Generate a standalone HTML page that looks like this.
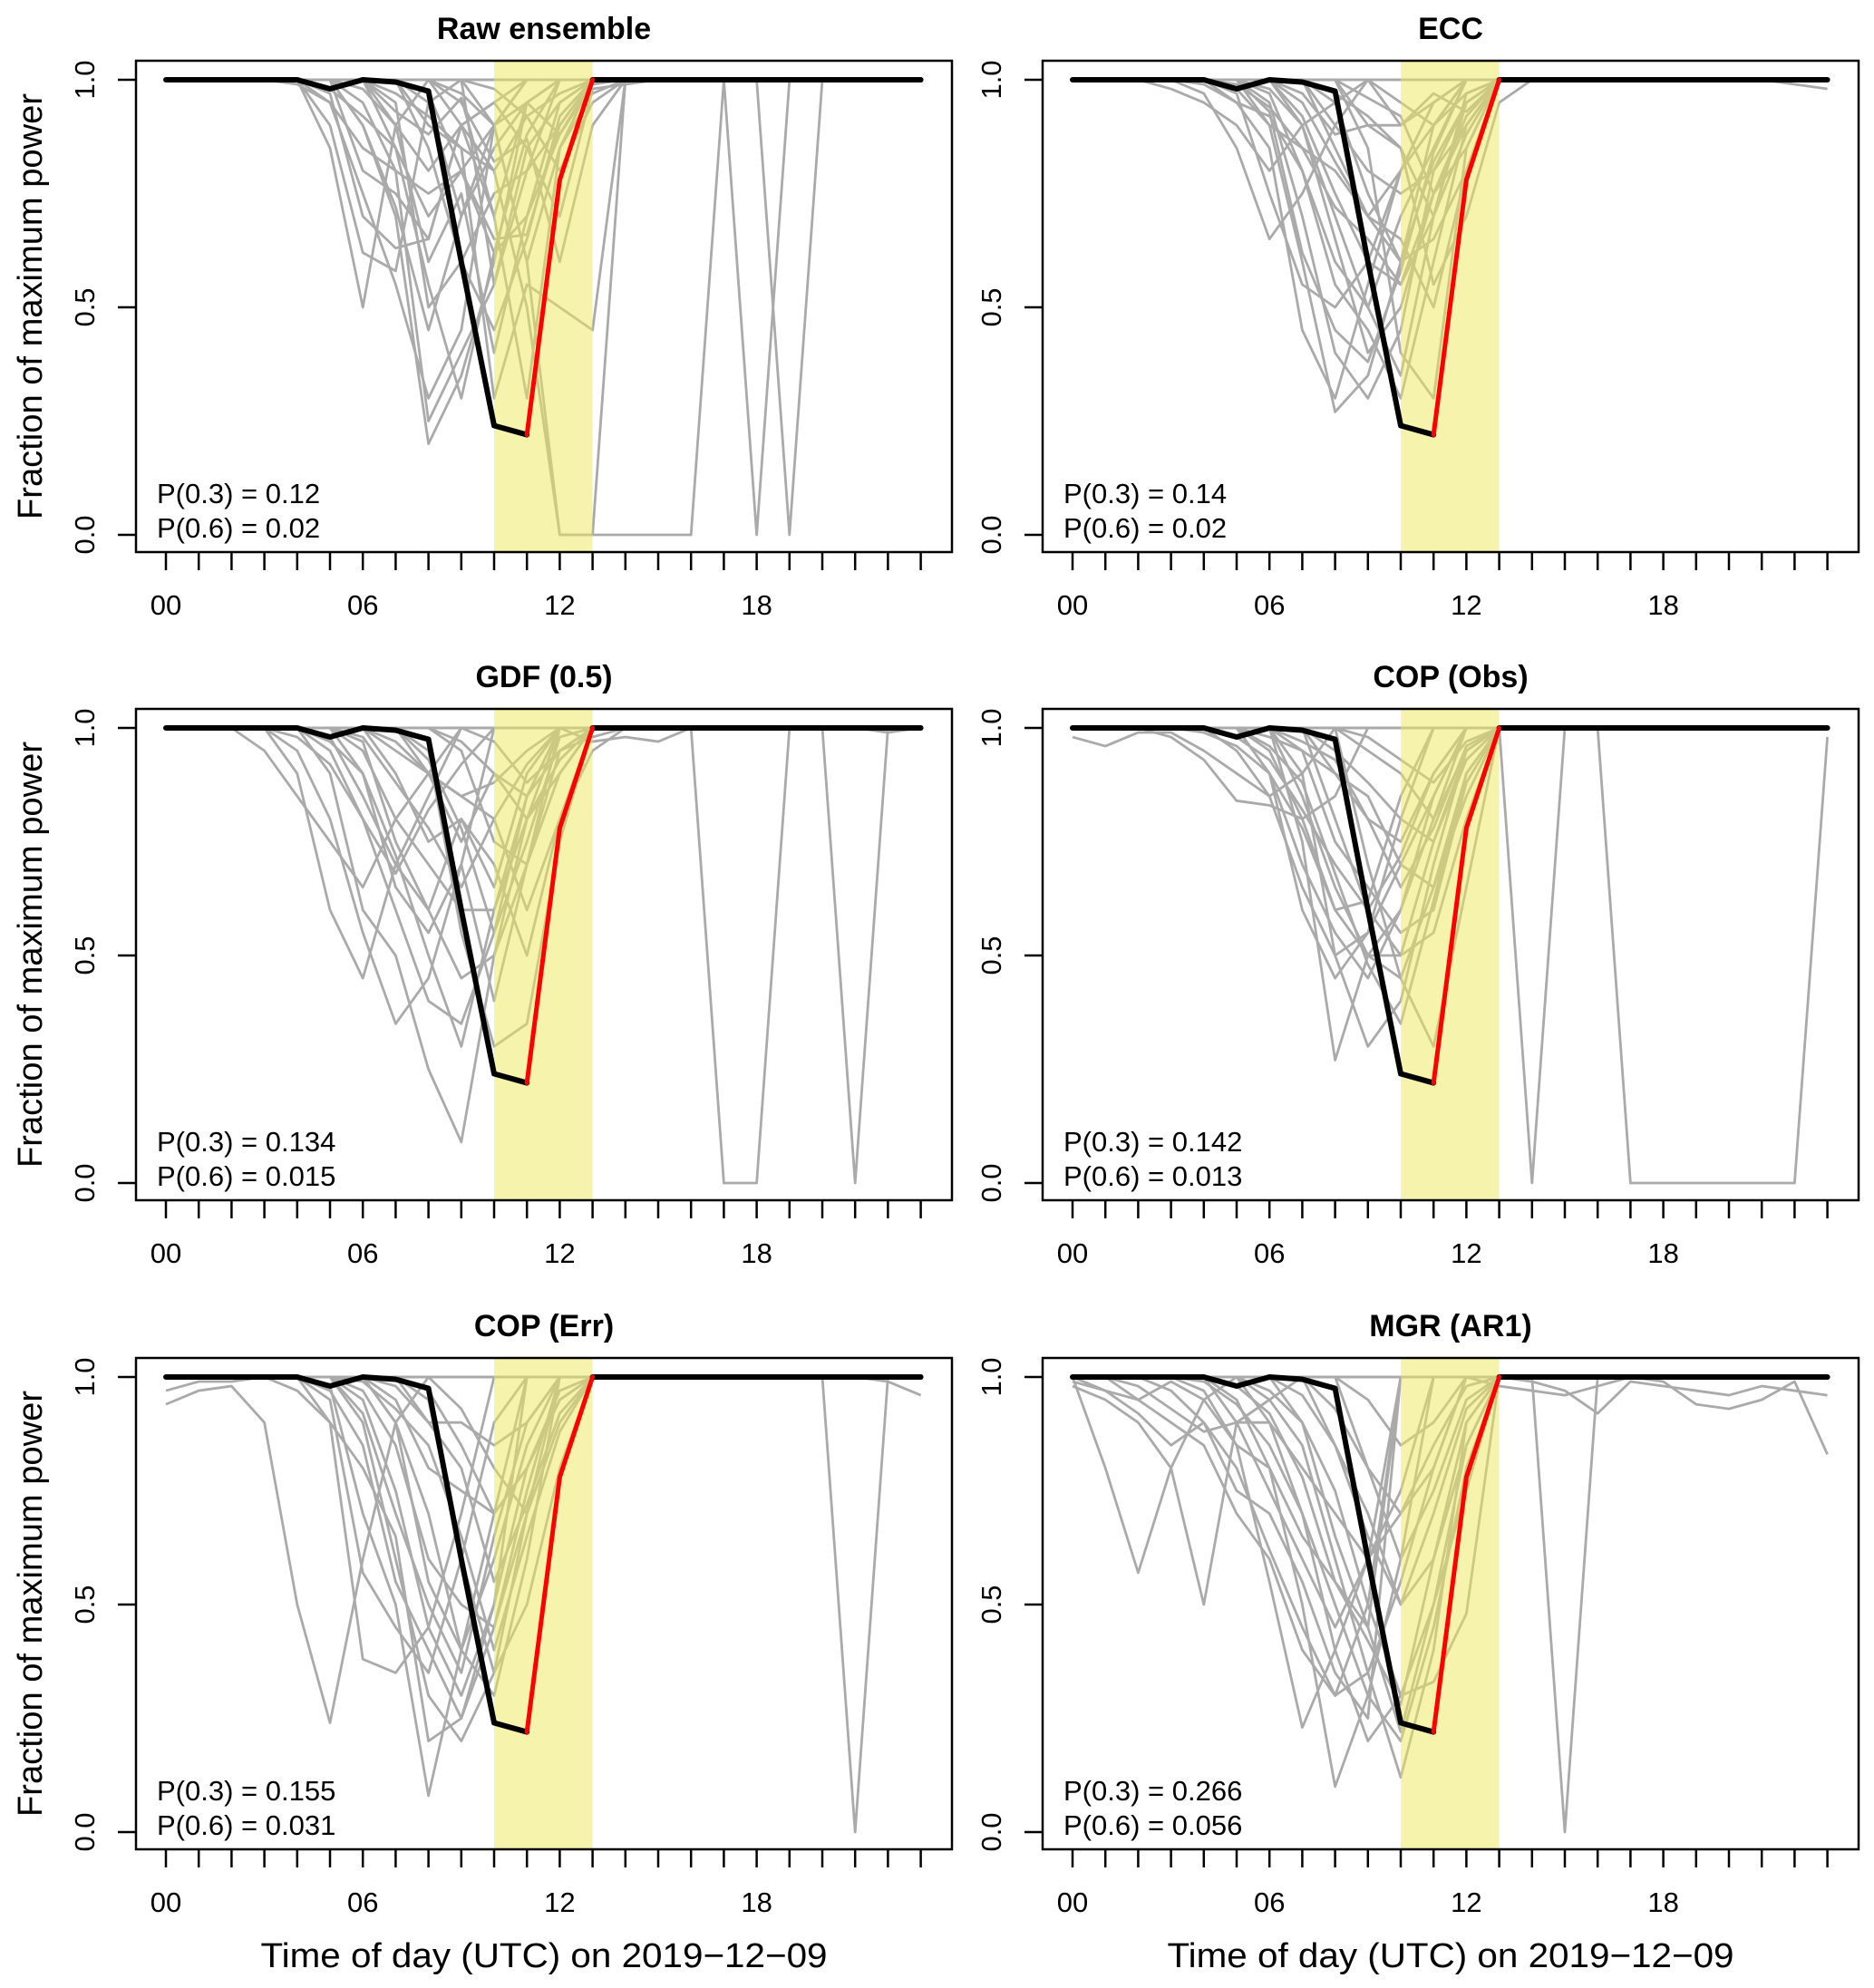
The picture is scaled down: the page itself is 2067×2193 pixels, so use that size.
<!DOCTYPE html>
<html><head><meta charset="utf-8">
<style>
html,body{margin:0;padding:0;background:#fff;}
svg{display:block;font-family:"Liberation Sans",Arial,sans-serif;}
</style></head>
<body>
<svg id="chart" width="2067" height="2193" viewBox="0 0 2067 2193" xmlns="http://www.w3.org/2000/svg"></svg>
<script>
// ---- data ----
const hours = [0,1,2,3,4,5,6,7,8,9,10,11,12,13,14,15,16,17,18,19,20,21,22,23];
const xTickLabels = ["00","06","12","18"];
const xTickHours = [0,6,12,18];
const yTicks = [0,0.5,1];
const yTickLabels = ["0.0","0.5","1.0"];
const observed = [1,1,1,1,1,0.98,1,0.995,0.975,0.6,0.24,0.22,0.78,1,1,1,1,1,1,1,1,1,1,1];
const bandStart = 10, bandEnd = 13;
const panelTitles = ["Raw ensemble","ECC","GDF (0.5)","COP (Obs)","COP (Err)","MGR (AR1)"];
const p03 = ["0.12","0.14","0.134","0.142","0.155","0.266"];
const p06 = ["0.02","0.02","0.015","0.013","0.031","0.056"];
// members as [hour, value] deviations from 1
const rawMembers = [
 [[5,.85],[6,.5],[7,.9]],
 [[5,.9],[6,.62],[7,.58],[8,.95]],
 [[5,.95],[6,.75],[7,.55],[8,.3],[9,.45],[10,.9]],
 [[6,.9],[7,.7],[8,.2],[9,.35],[10,.6],[11,.95]],
 [[6,.95],[7,.8],[8,.25],[9,.4],[10,.55],[11,.8]],
 [[7,.9],[8,.6],[9,.75],[10,.4],[11,.7],[12,.95]],
 [[7,.85],[8,.7],[9,.8],[10,.65],[11,.66],[12,.9]],
 [[8,.9],[9,.85],[10,.3],[11,.55],[12,.5],[13,.45]],
 [[6,.8],[7,.75],[8,.65],[9,.9],[10,.8],[11,.5],[12,0],[13,0]],
 [[10,.9],[11,.6],[12,0],[13,0],[14,0],[15,0],[16,0]],
 [[17,1],[18,0]],
 [[19,0]],
 [[6,.98],[7,.9],[8,.8],[9,.9],[10,.95],[11,.85],[12,.95]],
 [[8,.95],[9,.7],[10,.9],[11,.6],[12,.85],[13,.97]],
 [[9,.9],[10,.7],[11,.3],[12,.85]],
 [[7,.95],[8,.5],[9,.6],[10,.75],[11,.8],[12,.9]],
 [[5,.97],[6,.7],[7,.63],[8,.65],[9,.9],[10,.95]],
 [[10,.55],[11,.85],[12,.7],[13,.98],[14,.99]],
 [[9,.95],[10,.82],[11,.87],[12,.6],[13,.9]],
 [[8,.97],[9,.8],[10,.62],[11,.7],[12,.88]],
 [[4,.99],[5,.95],[6,.85],[7,.8],[8,.75],[9,.8],[10,.9]],
 [[7,.97],[8,.92],[9,.85],[10,.8],[11,.92],[12,.97]],
 [[9,.97],[10,.9],[11,.95],[12,.88],[13,.99]],
 [[6,.9],[7,.72],[8,.45],[9,.7],[10,.85],[11,.95]],
 [[8,.85],[9,.6],[10,.45],[11,.65],[12,.92]],
 [[10,.98],[11,.92],[12,.8],[13,.95]],
 [[7,.93],[8,.88],[9,.96],[10,.7],[11,.95]],
 [[5,.98],[6,.92],[7,.85],[8,.55],[9,.3],[10,.62],[11,.88]]
];
const eccMembers = [
 [[3,.98],[4,.95],[5,.9],[6,.8],[7,.9],[8,.95]],
 [[4,.97],[5,.85],[6,.65],[7,.75],[8,.9]],
 [[5,.95],[6,.85],[7,.45],[8,.3],[9,.55],[10,.8],[11,.95]],
 [[5,.98],[6,.9],[7,.6],[8,.27],[9,.35],[10,.6],[11,.9]],
 [[6,.95],[7,.7],[8,.4],[9,.3],[10,.45],[11,.8],[12,.95]],
 [[6,.97],[7,.8],[8,.55],[9,.45],[10,.3],[11,.6],[12,.9]],
 [[7,.9],[8,.7],[9,.5],[10,.35],[11,.7],[12,.95]],
 [[7,.92],[8,.75],[9,.6],[10,.55],[11,.75],[12,.85]],
 [[8,.85],[9,.7],[10,.65],[11,.5],[12,.8]],
 [[8,.9],[9,.8],[10,.75],[11,.8],[12,.9]],
 [[6,.9],[7,.85],[8,.8],[9,.7],[10,.8],[11,.9]],
 [[9,.9],[10,.85],[11,.55],[12,.7],[13,.95]],
 [[7,.97],[8,.88],[9,.9],[10,.9],[11,.95]],
 [[4,.99],[5,.95],[6,.92],[7,.8],[8,.6],[9,.5],[10,.7],[11,.85]],
 [[9,.85],[10,.4],[11,.3],[12,.85]],
 [[10,.95],[11,.9],[12,.97],[22,.99],[23,.98]],
 [[5,.97],[6,.75],[7,.55],[8,.5],[9,.6],[10,.8],[11,.95]],
 [[8,.95],[9,.75],[10,.6],[11,.65],[12,.8]],
 [[6,.98],[7,.9],[8,.65],[9,.4],[10,.5],[11,.75],[12,.92]],
 [[7,.95],[8,.82],[9,.7],[10,.6],[11,.82],[12,.95]],
 [[9,.96],[10,.92],[11,.75],[12,.9]],
 [[5,.99],[6,.94],[7,.85],[8,.72],[9,.65],[10,.55],[11,.7],[12,.88]],
 [[8,.97],[9,.92],[10,.85],[11,.7],[12,.97]],
 [[6,.93],[7,.62],[8,.45],[9,.38],[10,.58],[11,.84]],
 [[10,.9],[11,.97],[12,.93]]
];
const gdfMembers = [
 [[3,.95],[4,.85],[5,.75],[6,.65],[7,.8],[8,.9]],
 [[4,.9],[5,.6],[6,.45],[7,.7],[8,.85]],
 [[4,.95],[5,.8],[6,.55],[7,.35],[8,.45],[9,.7]],
 [[5,.9],[6,.6],[7,.5],[8,.25],[9,.09],[10,.5],[11,.8]],
 [[5,.95],[6,.8],[7,.6],[8,.4],[9,.35],[10,.55],[11,.85]],
 [[6,.9],[7,.65],[8,.55],[9,.7],[10,.4],[11,.7],[12,.95]],
 [[6,.95],[7,.8],[8,.7],[9,.6],[10,.6],[11,.8],[12,.9]],
 [[7,.9],[8,.75],[9,.8],[10,.7],[11,.5],[12,.8],[13,.95]],
 [[8,.9],[9,.85],[10,.8],[11,.6],[12,.8]],
 [[7,.95],[8,.9],[9,.75],[10,.9],[11,.85],[12,.95]],
 [[9,.95],[10,.75],[11,.7],[12,.9]],
 [[13,.97],[14,.98],[15,.97]],
 [[17,0],[18,0]],
 [[21,0]],
 [[5,.98],[6,.85],[7,.7],[8,.6],[9,.45],[10,.5],[11,.7]],
 [[8,.95],[9,.55],[10,.3],[11,.35],[12,.75]],
 [[22,.99]],
 [[6,.97],[7,.75],[8,.6],[9,.8],[10,.65],[11,.9]],
 [[6,.98],[7,.88],[8,.78],[9,.65],[10,.8],[11,.92]],
 [[7,.97],[8,.9],[9,.85],[10,.88],[11,.95]],
 [[5,.97],[6,.9],[7,.72],[8,.5],[9,.3],[10,.6],[11,.85]],
 [[9,.97],[10,.9],[11,.8],[12,.93]],
 [[4,.98],[5,.92],[6,.8],[7,.68],[8,.82],[9,.92]],
 [[8,.93],[9,.78],[10,.55],[11,.75],[12,.98]],
 [[10,.97],[11,.88],[12,.95],[13,.98]]
];
const copObsMembers = [
 [[0,.98],[1,.96],[2,.99],[3,.99],[4,.95],[5,.9],[6,.85],[7,.9]],
 [[3,.98],[4,.93],[5,.84],[6,.83],[7,.8],[8,.85]],
 [[5,.95],[6,.85],[7,.65],[8,.5],[9,.55],[10,.8]],
 [[6,.9],[7,.7],[8,.55],[9,.45],[10,.6],[11,.85]],
 [[6,.95],[7,.8],[8,.6],[9,.5],[10,.5],[11,.75],[12,.95]],
 [[7,.85],[8,.65],[9,.5],[10,.45],[11,.65],[12,.9]],
 [[7,.9],[8,.5],[9,.3],[10,.4],[11,.7],[12,.95]],
 [[8,.8],[9,.6],[10,.5],[11,.55],[12,.8]],
 [[7,.75],[8,.27],[9,.5],[10,.6],[11,.8]],
 [[9,.7],[10,.45],[11,.3],[12,.65]],
 [[8,.9],[9,.85],[10,.7],[11,.65],[12,.85]],
 [[9,.95],[10,.9],[11,.8],[12,.95]],
 [[14,0]],
 [[17,0],[18,0],[19,0],[20,0],[21,0],[22,0],[23,.98]],
 [[6,.98],[7,.95],[8,.9],[9,.8],[10,.75],[11,.9]],
 [[6,.9],[7,.6],[8,.45],[9,.55],[10,.7],[11,.85]],
 [[7,.95],[8,.75],[9,.65],[10,.55],[11,.6],[12,.88]],
 [[5,.98],[6,.93],[7,.82],[8,.7],[9,.6],[10,.72],[11,.9]],
 [[8,.95],[9,.88],[10,.8],[11,.75],[12,.93]],
 [[6,.96],[7,.88],[8,.68],[9,.48],[10,.35],[11,.62],[12,.9]],
 [[9,.98],[10,.93],[11,.88],[12,.97]],
 [[4,.99],[5,.96],[6,.9],[7,.78],[8,.6],[9,.62],[10,.85]],
 [[7,.97],[8,.93],[9,.8],[10,.65],[11,.78],[12,.96]]
];
const copErrMembers = [
 [[0,.94],[1,.97],[2,.98],[3,.9],[4,.5],[5,.24],[6,.6],[7,.9]],
 [[0,.97],[1,.99],[2,.99],[5,.95],[6,.57],[7,.45],[8,.35],[9,.6],[10,.9]],
 [[5,.9],[6,.38],[7,.35],[8,.45],[9,.7]],
 [[5,.98],[6,.7],[7,.5],[8,.08],[9,.4],[10,.7]],
 [[6,.9],[7,.6],[8,.3],[9,.2],[10,.35],[11,.7]],
 [[6,.95],[7,.75],[8,.45],[9,.3],[10,.5],[11,.8],[12,.95]],
 [[6,.97],[7,.85],[8,.6],[9,.5],[10,.45],[11,.7],[12,.9]],
 [[7,.9],[8,.7],[9,.4],[10,.6],[11,.85]],
 [[7,.95],[8,.8],[9,.75],[10,.7],[11,.8],[12,.95]],
 [[8,.9],[9,.9],[10,.85],[11,.9]],
 [[21,0]],
 [[22,.99],[23,.96]],
 [[4,.97],[5,.9],[6,.8],[7,.65],[8,.2],[9,.25],[10,.5]],
 [[8,.95],[9,.6],[10,.35],[11,.5],[12,.8]],
 [[7,.9],[8,.55],[9,.4],[10,.3],[11,.6]],
 [[5,.97],[6,.85],[7,.55],[8,.4],[9,.25],[10,.45],[11,.75]],
 [[6,.92],[7,.7],[8,.5],[9,.35],[10,.65],[11,.9]],
 [[8,.97],[9,.85],[10,.7],[11,.8],[12,.97]],
 [[7,.98],[8,.9],[9,.8],[10,.55],[11,.72],[12,.92]],
 [[9,.93],[10,.8],[11,.7],[12,.9]],
 [[6,.99],[7,.93],[8,.85],[9,.65],[10,.4],[11,.65],[12,.88]]
];
const mgrMembers = [
 [[1,.8],[2,.57],[3,.8],[4,.95]],
 [[0,.98],[1,.95],[2,.9],[3,.8],[4,.5],[5,.9],[6,.95]],
 [[2,.95],[3,.9],[4,.85],[5,.7],[6,.6],[7,.4],[8,.3],[9,.5]],
 [[4,.97],[5,.85],[6,.55],[7,.23],[8,.4],[9,.6]],
 [[5,.95],[6,.8],[7,.5],[8,.1],[9,.3],[10,.6]],
 [[6,.9],[7,.7],[8,.4],[9,.2],[10,.3],[11,.5],[12,.85]],
 [[6,.95],[7,.85],[8,.6],[9,.35],[10,.12],[11,.4],[12,.9]],
 [[7,.9],[8,.75],[9,.5],[10,.3],[11,.33],[12,.48]],
 [[8,.85],[9,.7],[10,.5],[11,.6],[12,.85]],
 [[5,.9],[6,.9],[7,.8],[8,.7],[9,.6],[10,.7],[11,.8]],
 [[15,0]],
 [[13,.98],[14,.97],[15,.96],[16,.98],[18,.99],[19,.94],[20,.93],[21,.95],[22,.99],[23,.83]],
 [[14,.99],[15,.97],[16,.92],[17,.99],[18,.98],[19,.97],[20,.96],[21,.98],[22,.97],[23,.96]],
 [[0,.99],[1,.97],[2,.95],[3,.99],[4,.95],[5,.85],[6,.8],[7,.65],[8,.55],[9,.45]],
 [[9,.8],[10,.6],[11,.75],[12,.95]],
 [[1,.97],[2,.92],[3,.85],[4,.9],[5,.75],[6,.7],[7,.55],[8,.35],[9,.25]],
 [[6,.97],[7,.9],[8,.65],[9,.45],[10,.22],[11,.5],[12,.75]],
 [[3,.97],[4,.9],[5,.8],[6,.62],[7,.45],[8,.3],[9,.35],[10,.55],[11,.8]],
 [[5,.98],[6,.92],[7,.78],[8,.55],[9,.42],[10,.28],[11,.6],[12,.9]],
 [[7,.96],[8,.85],[9,.65],[10,.5],[11,.7],[12,.93]],
 [[8,.93],[9,.8],[10,.7],[11,.85],[12,.98]],
 [[4,.99],[5,.94],[6,.85],[7,.7],[8,.5],[9,.3],[10,.2],[11,.45],[12,.8]],
 [[9,.95],[10,.85],[11,.9]],
 [[2,.98],[3,.93],[4,.88],[5,.9],[6,.75],[7,.6],[8,.45],[9,.6],[10,.75]]
];
const allMembers = [rawMembers, eccMembers, gdfMembers, copObsMembers, copErrMembers, mgrMembers];

// ---- layout ----
const NS = "http://www.w3.org/2000/svg";
const svg = document.getElementById("chart");
const colLeft = [150, 1150];
const rowTop = [67, 782, 1498];
const boxW = 900, boxH = 542;
function mk(tag, attrs, parent){ const e=document.createElementNS(NS,tag); for(const k in attrs) e.setAttribute(k,attrs[k]); (parent||svg).appendChild(e); return e; }

allMembers.forEach((members, p) => {
  const col = p % 2, row = Math.floor(p / 2);
  const L = colLeft[col], T = rowTop[row];
  const x0 = L + 33, step = 36.2;
  const xs = h => x0 + h * step;
  const ys = v => T + 21 + (1 - v) * 502;
  const g = mk("g", {});
  
  

  const title = mk("text", {x: L + boxW/2, y: T - 24, "text-anchor":"middle", "font-size":"34", "font-weight":"bold"}, g);
  title.textContent = panelTitles[p];
  
  

  // members
  const mg = mk("g", {fill:"none", stroke:"#aaaaaa", "stroke-width":"2.8", "stroke-linejoin":"round"}, g);
  
  
  members.forEach(dev => {
    const vals = hours.map(() => 1);
    dev.forEach(([h, v]) => { vals[h] = v; });
    const pl = mk("polyline", {points: hours.map(h => xs(h) + "," + ys(vals[h])).join(" ")}, mg);
    
    
  });
  // band
  const band = mk("rect", {x: xs(bandStart), y: T, width: xs(bandEnd) - xs(bandStart), height: boxH, fill: "rgb(238,232,90)", "fill-opacity": "0.5"}, g);
  
  
  // observed
  const obsBlack = mk("polyline", {points: hours.filter(h => h <= 11).map(h => xs(h) + "," + ys(observed[h])).join(" "), fill:"none", stroke:"#000", "stroke-width":"6", "stroke-linejoin":"round", "stroke-linecap":"round"}, g);
  
  
  const obsBlack2 = mk("polyline", {points: hours.filter(h => h >= 13).map(h => xs(h) + "," + ys(observed[h])).join(" "), fill:"none", stroke:"#000", "stroke-width":"6", "stroke-linejoin":"round", "stroke-linecap":"round"}, g);
  
  
  const obsRed = mk("polyline", {points: hours.filter(h => h >= 11 && h <= 13).map(h => xs(h) + "," + ys(observed[h])).join(" "), fill:"none", stroke:"#ff0000", "stroke-width":"5", "stroke-linejoin":"round", "stroke-linecap":"round"}, g);
  
  

  // box
  const box = mk("rect", {x: L, y: T, width: boxW, height: boxH, fill:"none", stroke:"#000", "stroke-width":"2.5"}, g);
  
  

  // x ticks
  const xt = mk("g", {stroke:"#000", "stroke-width":"2.5"}, g);
  
  
  hours.forEach(h => mk("line", {x1: xs(h), x2: xs(h), y1: T + boxH, y2: T + boxH + 20}, xt));
  xTickHours.forEach((h, i) => {
    const t = mk("text", {x: xs(h), y: T + boxH + 69, "text-anchor":"middle", "font-size":"31"}, g);
    t.textContent = xTickLabels[i];
    
    
  });
  // y ticks
  yTicks.forEach((v, i) => {
    const ln = mk("line", {x1: L - 20, x2: L, y1: ys(v), y2: ys(v), stroke:"#000", "stroke-width":"2.5"}, g);
    
    
    const t = mk("text", {x: 0, y: 0, "text-anchor":"middle", "font-size":"31", transform: `translate(${L - 46},${ys(v)}) rotate(-90)`}, g);
    t.textContent = yTickLabels[i];
    
    
  });
  // P texts
  const pa = mk("text", {x: L + 23, y: T + 488, "font-size":"31"}, g);
  pa.textContent = "P(0.3) = " + p03[p];
  
  
  const pb = mk("text", {x: L + 23, y: T + 526, "font-size":"31"}, g);
  pb.textContent = "P(0.6) = " + p06[p];
  
  

  if (col === 0) {
    const yt = mk("text", {x: 0, y: 0, "text-anchor":"middle", "font-size":"38", transform: `translate(46,${T + boxH/2}) rotate(-90)`, textLength: "470", lengthAdjust: "spacingAndGlyphs"}, g);
    yt.textContent = "Fraction of maximum power";
    
    
  }
  if (row === 2) {
    const xtl = mk("text", {x: L + boxW/2, y: 2170, "text-anchor":"middle", "font-size":"38", textLength: "625", lengthAdjust: "spacingAndGlyphs"}, g);
    xtl.textContent = "Time of day (UTC) on 2019\u221212\u221209";
    
    
  }
});
</script>
</body></html>
